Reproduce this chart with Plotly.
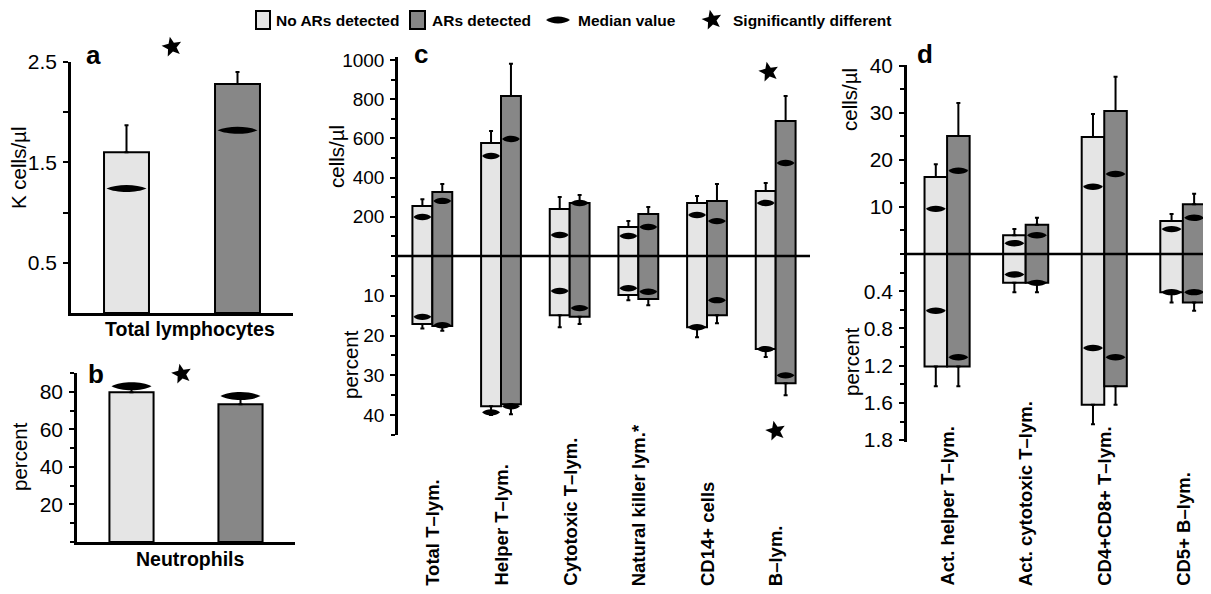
import math
import plotly.graph_objects as go

W, H = 1211, 594
OFF = 8  # the page shows the figure shifted by the body margin


def px(x):
    return (x - OFF) / W


def py(y):
    return 1 - (y - OFF) / H


LIGHT = "#e5e5e5"
DARK = "#878787"
FONT = "Liberation Sans, Arial, sans-serif"

# ---------------- data ----------------
groups = ["No ARs detected", "ARs detected"]

# panel a: total lymphocytes (K cells/µl)
a_mean = [1.60, 2.28]
a_err = [1.87, 2.40]
a_median = [1.24, 1.82]
a_tickvals = [0.5, 1.0, 1.5, 2.0, 2.5]
a_ticktext = ["0.5", "", "1.5", "", "2.5"]

# panel b: neutrophils (percent)
b_mean = [79.8, 73.4]
b_err = [81.5, 76.6]
b_median = [83.0, 77.7]
b_tickvals = [20, 40, 60, 80]

# panel c
c_cats = ["Total T–lym.", "Helper T–lym.", "Cytotoxic T–lym.",
          "Natural killer lym.*", "CD14+ cells", "B–lym."]
c_cells_no = [255, 576, 240, 148, 270, 332]
c_cells_no_err = [290, 637, 301, 178, 306, 372]
c_cells_no_med = [199, 510, 107, 102, 209, 270]
c_cells_ar = [327, 816, 270, 214, 281, 689]
c_cells_ar_err = [367, 980, 311, 250, 367, 816]
c_cells_ar_med = [281, 597, 270, 148, 178, 474]
c_pct_no = [17.1, 37.8, 14.9, 9.8, 17.9, 23.4]
c_pct_no_err = [18.2, 40.0, 17.9, 11.1, 20.4, 25.4]
c_pct_no_med = [15.3, 39.3, 8.8, 8.1, 17.9, 23.4]
c_pct_ar = [17.6, 37.3, 15.3, 10.8, 14.9, 32.0]
c_pct_ar_err = [18.8, 39.8, 17.1, 12.4, 16.9, 35.0]
c_pct_ar_med = [17.4, 37.8, 13.1, 9.0, 11.1, 30.0]
c_cells_tickvals = [200, 400, 600, 800, 1000]
c_pct_tickvals = [10, 20, 30, 40]
c_sig_cells = [False, False, False, False, False, True]
c_sig_pct = [False, False, False, False, False, True]

# panel d
d_cats = ["Act. helper T–lym.", "Act. cytotoxic T–lym.",
          "CD4+CD8+ T–lym.", "CD5+ B–lym."]
d_cells_no = [16.4, 4.0, 24.9, 7.0]
d_cells_no_err = [19.1, 5.3, 29.8, 8.5]
d_cells_no_med = [9.6, 2.3, 14.3, 5.3]
d_cells_ar = [25.1, 6.2, 30.4, 10.6]
d_cells_ar_err = [32.1, 7.7, 37.7, 12.8]
d_cells_ar_med = [17.7, 4.0, 17.0, 7.7]
d_pct_no = [1.21, 0.31, 1.62, 0.41]
d_pct_no_err = [1.42, 0.41, 1.83, 0.52]
d_pct_no_med = [0.61, 0.22, 1.01, 0.41]
d_pct_ar = [1.21, 0.31, 1.42, 0.52]
d_pct_ar_err = [1.42, 0.41, 1.62, 0.61]
d_pct_ar_med = [1.11, 0.31, 1.11, 0.41]
d_cells_tickvals = [10, 20, 30, 40]
d_pct_tickvals = [0.4, 0.8, 1.2, 1.6, 2.0]
d_pct_ticktext = ["0.4", "0.8", "1.2", "1.6", "1.8"]

# ---------------- axis geometry ----------------
AX = {
    "x": dict(dom=[px(71), px(293)], rng=[-0.5, 1.5]),
    "y": dict(dom=[py(313), py(62)], rng=[0, 2.5]),
    "x2": dict(dom=[px(77), px(295)], rng=[-0.5, 1.5]),
    "y2": dict(dom=[py(542), py(373)], rng=[0, 90]),
    "x3": dict(dom=[px(398), px(810)], rng=[-0.5, 5.5]),
    "y3": dict(dom=[py(256), py(57)], rng=[0, 1015]),
    "y4": dict(dom=[py(435), py(256)], rng=[45, 0]),
    "x4": dict(dom=[px(907), 1.0], rng=[-0.51, 3.46]),
    "y5": dict(dom=[py(254), py(65)], rng=[0, 40.2]),
    "y6": dict(dom=[py(442), py(254)], rng=[2.02, 0]),
}


def to_paper(ax, v):
    d0, d1 = AX[ax]["dom"]
    r0, r1 = AX[ax]["rng"]
    return d0 + (v - r0) / (r1 - r0) * (d1 - d0)


# ---------------- figure ----------------
fig = go.Figure()
shapes = []
annotations = []


def lens_shape(xref, yref, xc, yc, hw, hh):
    k = hh / 0.75
    h2 = hw / 2
    return dict(type="path", xref=xref, yref=yref,
                xsizemode="pixel", ysizemode="pixel",
                xanchor=xc, yanchor=yc,
                path=(f"M{-hw},0 C{-h2},{k:.2f} {h2},{k:.2f} {hw},0 "
                      f"C{h2},{-k:.2f} {-h2},{-k:.2f} {-hw},0 Z"),
                fillcolor="black", line=dict(width=0), layer="above")


def star_path(r_out=10.5, r_in=4.6, rot=12):
    pts = []
    for k in range(10):
        r = r_out if k % 2 == 0 else r_in
        ang = math.radians(90 + rot + k * 36)
        pts.append((r * math.cos(ang), r * math.sin(ang)))
    return "M" + " L".join(f"{x:.2f},{y:.2f}" for x, y in pts) + " Z"


def star_shape(xp, yp):
    return dict(type="path", xref="paper", yref="paper",
                xsizemode="pixel", ysizemode="pixel",
                xanchor=xp, yanchor=yp, path=star_path(),
                fillcolor="black", line=dict(width=0), layer="above")


def add_star(xa, ya, x, y):
    shapes.append(star_shape(to_paper(xa, x), to_paper(ya, y)))


def add_bars(xs, vals, errs, color, xa, ya, width, offset=None):
    kw = dict(width=width)
    if offset is not None:
        kw["offset"] = offset
    fig.add_trace(go.Bar(
        x=xs, y=vals, base=0, xaxis=xa, yaxis=ya,
        marker=dict(color=color, line=dict(color="black", width=2)),
        error_y=dict(type="data", symmetric=False,
                     array=[e - v for e, v in zip(errs, vals)],
                     arrayminus=[0] * len(vals),
                     color="black", thickness=2, width=2),
        showlegend=False, hoverinfo="skip", **kw))


# panel a and b: one bar per group
for i, col in enumerate([LIGHT, DARK]):
    add_bars([i], [a_mean[i]], [a_err[i]], col, "x", "y", 0.405)
    add_bars([i], [b_mean[i]], [b_err[i]], col, "x2", "y2", 0.405)
    shapes.append(lens_shape("x", "y", i, a_median[i], 20, 3.5))
    shapes.append(lens_shape("x2", "y2", i, b_median[i], 20, 4))

add_star("x", "y", 0.41, 2.65)
add_star("x2", "y2", 0.46, 89.5)

CAT_FONT = dict(family=FONT, size=18.5, color="black", weight="bold")

# panel c
wc = 0.29
ci = list(range(len(c_cats)))
add_bars(ci, c_cells_no, c_cells_no_err, LIGHT, "x3", "y3", wc, -wc)
add_bars(ci, c_cells_ar, c_cells_ar_err, DARK, "x3", "y3", wc, 0)
add_bars(ci, c_pct_no, c_pct_no_err, LIGHT, "x3", "y4", wc, -wc)
add_bars(ci, c_pct_ar, c_pct_ar_err, DARK, "x3", "y4", wc, 0)
for i in ci:
    shapes.append(lens_shape("x3", "y3", i - wc / 2, c_cells_no_med[i], 9, 3.2))
    shapes.append(lens_shape("x3", "y3", i + wc / 2, c_cells_ar_med[i], 9, 3.2))
    shapes.append(lens_shape("x3", "y4", i - wc / 2, c_pct_no_med[i], 9, 3.2))
    shapes.append(lens_shape("x3", "y4", i + wc / 2, c_pct_ar_med[i], 9, 3.2))
    if c_sig_cells[i]:
        add_star("x3", "y3", i - 0.1, 939)
    if c_sig_pct[i]:
        add_star("x3", "y4", i, 44)
    annotations.append(dict(text=c_cats[i], xref="x3", x=i, yref="paper",
                            y=py(588), xanchor="center", yanchor="bottom",
                            textangle=-90, showarrow=False, font=CAT_FONT))

# panel d
wd = 0.287
di = list(range(len(d_cats)))
add_bars(di, d_cells_no, d_cells_no_err, LIGHT, "x4", "y5", wd, -wd)
add_bars(di, d_cells_ar, d_cells_ar_err, DARK, "x4", "y5", wd, 0)
add_bars(di, d_pct_no, d_pct_no_err, LIGHT, "x4", "y6", wd, -wd)
add_bars(di, d_pct_ar, d_pct_ar_err, DARK, "x4", "y6", wd, 0)
for i in di:
    shapes.append(lens_shape("x4", "y5", i - wd / 2, d_cells_no_med[i], 10, 3.2))
    shapes.append(lens_shape("x4", "y5", i + wd / 2, d_cells_ar_med[i], 10, 3.2))
    shapes.append(lens_shape("x4", "y6", i - wd / 2, d_pct_no_med[i], 10, 3.2))
    shapes.append(lens_shape("x4", "y6", i + wd / 2, d_pct_ar_med[i], 10, 3.2))
    annotations.append(dict(text=d_cats[i], xref="x4", x=i, yref="paper",
                            y=py(588), xanchor="center", yanchor="bottom",
                            textangle=-90, showarrow=False, font=CAT_FONT))

# zero lines of c and d, drawn above the bars
LW = 2.5
for xa, ya in (("x3", "y3"), ("x4", "y5")):
    shapes.append(dict(type="line", xref="paper", yref="paper",
                       x0=AX[xa]["dom"][0],
                       x1=1.0 if xa == "x4" else AX[xa]["dom"][1],
                       y0=AX[ya]["dom"][0], y1=AX[ya]["dom"][0],
                       line=dict(color="black", width=LW), layer="above"))


# ---------------- axes ----------------
def xax(name, anchor, line=True):
    return dict(domain=AX[name]["dom"], range=AX[name]["rng"], anchor=anchor,
                showline=line, linewidth=LW, linecolor="black",
                showgrid=False, zeroline=False, showticklabels=False,
                ticks="", fixedrange=True, automargin=False)


def yax(name, anchor, tickvals, ticktext=None, minor=None, size=21):
    d = dict(domain=AX[name]["dom"], range=AX[name]["rng"], anchor=anchor,
             showline=True, linewidth=LW, linecolor="black", showgrid=False,
             zeroline=False, ticks="outside", ticklen=5, tickwidth=2,
             tickcolor="black", tickmode="array", tickvals=tickvals,
             tickfont=dict(family=FONT, size=size, color="black"),
             ticklabelstandoff=2, fixedrange=True, automargin=False)
    if ticktext is not None:
        d["ticktext"] = ticktext
    if minor is not None:
        d["minor"] = dict(dtick=minor, ticks="outside", ticklen=4,
                          tickwidth=2, tickcolor="black", showgrid=False)
    return d


fig.update_layout(
    xaxis=xax("x", "y"),
    yaxis=yax("y", "x", a_tickvals, a_ticktext),
    xaxis2=xax("x2", "y2"),
    yaxis2=yax("y2", "x2", b_tickvals, minor=10),
    xaxis3=xax("x3", "y3", line=False),
    yaxis3=yax("y3", "x3", c_cells_tickvals, minor=100, size=19),
    yaxis4=yax("y4", "x3", c_pct_tickvals, minor=5, size=19),
    xaxis4=xax("x4", "y5", line=False),
    yaxis5=yax("y5", "x4", d_cells_tickvals, minor=5),
    yaxis6=yax("y6", "x4", d_pct_tickvals, d_pct_ticktext, minor=0.2),
)


# ---------------- text ----------------
def ann(text, x, y, size=20, bold=False, angle=0, xanchor="center",
        yanchor="middle"):
    f = dict(family=FONT, size=size, color="black")
    if bold:
        f["weight"] = "bold"
    annotations.append(dict(text=text, xref="paper", yref="paper",
                            x=px(x), y=py(y), xanchor=xanchor,
                            yanchor=yanchor, textangle=angle,
                            showarrow=False, font=f, borderpad=0))


ann("a", 93, 55, 26, True)
ann("b", 96, 374, 26, True)
ann("c", 421, 54, 26, True)
ann("d", 925, 54, 26, True)
ann("Total lymphocytes", 190, 329, 19.5, True)
ann("Neutrophils", 190, 559, 19.5, True)
ann("K cells/µl", 18, 168, 20.5, angle=-90)
ann("percent", 20, 457, 20.5, angle=-90)
ann("cells/µl", 336, 157, 20.5, angle=-90)
ann("percent", 350, 365, 20.5, angle=-90)
ann("cells/µl", 850, 100, 20.5, angle=-90)
ann("percent", 852, 362, 20.5, angle=-90)

# legend (manual)
LEG_Y = 20
shapes.append(dict(type="rect", xref="paper", yref="paper", x0=px(256),
                   x1=px(270), y0=py(LEG_Y + 9), y1=py(LEG_Y - 9),
                   fillcolor=LIGHT, line=dict(color="black", width=2)))
shapes.append(dict(type="rect", xref="paper", yref="paper", x0=px(410),
                   x1=px(425), y0=py(LEG_Y + 9), y1=py(LEG_Y - 9),
                   fillcolor=DARK, line=dict(color="black", width=2)))
shapes.append(lens_shape("paper", "paper", px(558), py(LEG_Y), 12, 3.5))
shapes.append(star_shape(px(712), py(LEG_Y)))
ann(groups[0], 275, LEG_Y, 15.5, True, xanchor="left")
ann(groups[1], 431, LEG_Y, 15.5, True, xanchor="left")
ann("Median value", 577, LEG_Y, 15.5, True, xanchor="left")
ann("Significantly different", 732, LEG_Y, 15.5, True, xanchor="left")

fig.update_layout(
    width=W, height=H, margin=dict(l=0, r=0, t=0, b=0, pad=0),
    paper_bgcolor="white", plot_bgcolor="white",
    barmode="overlay", showlegend=False,
    shapes=shapes, annotations=annotations,
    font=dict(family=FONT, color="black"),
)

fig.write_html("out.html")
